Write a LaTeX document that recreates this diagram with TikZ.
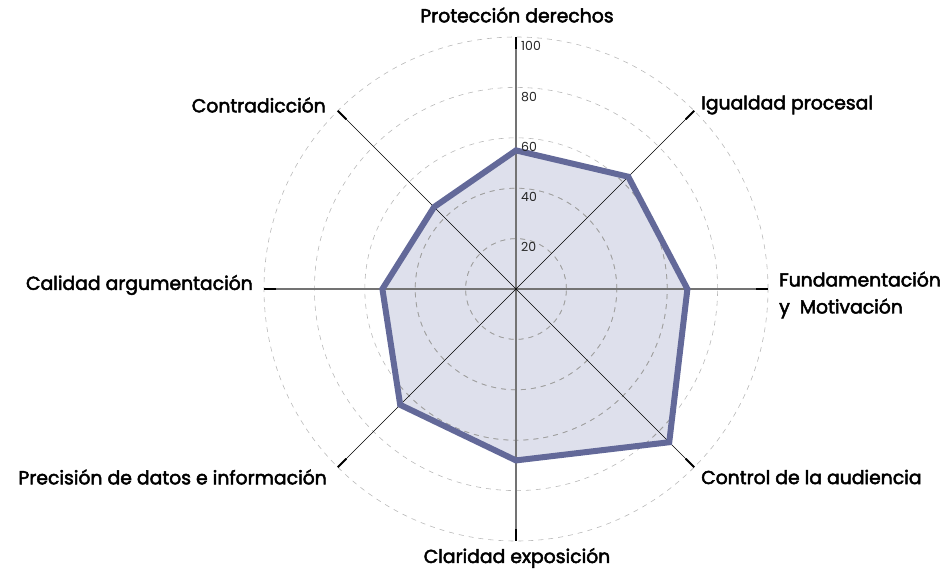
\documentclass[tikz,border=0pt]{standalone}
\usepackage{fontspec}
\setmainfont{Poppins}
\newfontfamily\labfont{Poppins}[FakeBold=2.6]
\usetikzlibrary{calc}
\begin{document}
\begin{tikzpicture}[x=1pt,y=-1pt,
  lab/.style={font=\labfont\fontsize{18.8}{27}\selectfont, inner sep=0pt, text=black},
  ticklab/.style={font=\fontsize{12.5}{12.5}\selectfont, inner sep=0pt, anchor=west, text=black!85},
  gridout/.style={draw=gray!55, line width=0.6pt, dash pattern=on 5pt off 5pt},
  gridin/.style={draw=gray!75, line width=0.8pt, dash pattern=on 5pt off 5pt},
  mainax/.style={draw=black!55, line width=1.1pt},
  diagax/.style={draw=black, line width=0.6pt},
  axend/.style={draw=black, line width=2pt},
  datastroke/.style={draw=polyc, line width=6pt, line join=miter},
]
\definecolor{polyc}{RGB}{99,105,153}
\definecolor{fillc}{RGB}{222,224,236}
\useasboundingbox (0,0) rectangle (947,570);
\coordinate (O) at (516,289);
% data points (scale 2.52 per unit); y axis points down, so angles are negated
\coordinate (p1) at ($(O)+(-90:138.6)$);
\coordinate (p2) at ($(O)+(-45:158.8)$);
\coordinate (p3) at ($(O)+(0:171.4)$);
\coordinate (p4) at ($(O)+(45:216.7)$);
\coordinate (p5) at ($(O)+(90:171.4)$);
\coordinate (p6) at ($(O)+(135:163.8)$);
\coordinate (p7) at ($(O)+(180:133.6)$);
\coordinate (p8) at ($(O)+(-135:115.9)$);
% axis ends
\foreach \a/\n in {-90/1,-45/2,0/3,45/4,90/5,135/6,180/7,-135/8}{
  \coordinate (e\n) at ($(O)+(\a:252)$);
  \coordinate (t\n) at ($(O)+(\a:240)$);
}
% fill
\fill[fillc] (p1) -- (p2) -- (p3) -- (p4) -- (p5) -- (p6) -- (p7) -- (p8) -- cycle;
% grid circles
\foreach \r in {50.4,100.8,151.2,201.6,252}{
  \draw[gridout] (O) circle[radius=\r pt];
}
\begin{scope}
  \clip (p1) -- (p2) -- (p3) -- (p4) -- (p5) -- (p6) -- (p7) -- (p8) -- cycle;
  \foreach \r in {50.4,100.8,151.2,201.6}{
    \draw[gridin] (O) circle[radius=\r pt];
  }
\end{scope}
% axes
\draw[diagax] (O) -- (e2);
\draw[diagax] (O) -- (e4);
\draw[diagax] (O) -- (e6);
\draw[diagax] (O) -- (e8);
\draw[mainax] (O) -- (e1);
\draw[mainax] (O) -- (e3);
\draw[mainax] (O) -- (e5);
\draw[mainax] (O) -- (e7);
\foreach \n in {1,...,8}{ \draw[axend] (t\n) -- (e\n); }
\fill[black] (O) circle[radius=1.3pt];
% data polygon
\draw[datastroke] (p1) -- (p2) -- (p3) -- (p4) -- (p5) -- (p6) -- (p7) -- (p8) -- cycle;
% tick labels
\node[ticklab] (k20) at (521,247) {20};
\node[ticklab] (k40) at (521,197) {40};
\node[ticklab] (k60) at (521,147) {60};
\node[ticklab] (k80) at (521,97) {80};
\node[ticklab] (k100) at (521,46) {100};
% category labels
\node[lab] (l1) at (517,15) {Protección derechos};
\node[lab, anchor=west] (l2) at (701,105) {Igualdad procesal};
\node[lab, anchor=west, align=left] (l3) at (779,295) {Fundamentación\\ y\ \ Motivación};
\node[lab, anchor=west] (l4) at (701,477) {Control de la audiencia};
\node[lab] (l5) at (517,558) {Claridad exposición};
\node[lab, anchor=east] (l6) at (327,477) {Precisión de datos e información};
\node[lab, anchor=east] (l7) at (253,285) {Calidad argumentación};
\node[lab, anchor=east] (l8) at (326,105) {Contradicción};
\end{tikzpicture}
\end{document}
